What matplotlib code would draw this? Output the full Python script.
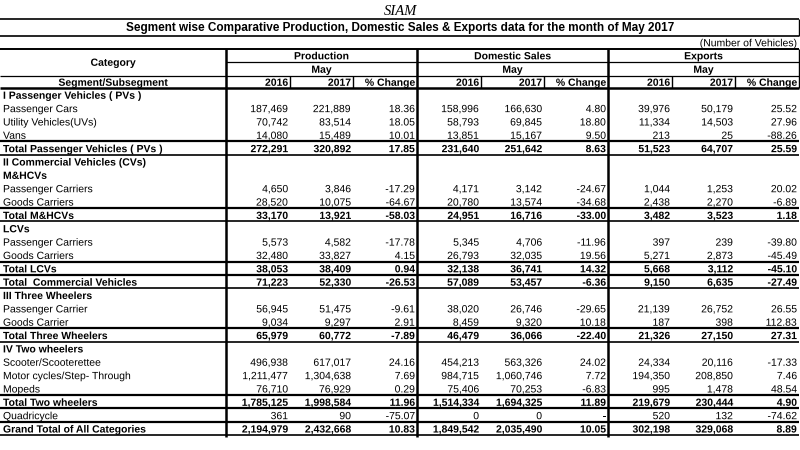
"""
SIAM segment-wise production / domestic sales / exports table, May 2017.
Drawn as a plain matplotlib table on a pixel-scaled axes.
"""
import math

import matplotlib
matplotlib.use("Agg")
import matplotlib.pyplot as plt
from matplotlib import patheffects

plt.rcParams["font.family"] = "Liberation Sans"

# --- data -----------------------------------------------------------------
labels = [
    "I Passenger Vehicles ( PVs )", "Passenger Cars", "Utility Vehicles(UVs)", "Vans",
    "Total Passenger Vehicles ( PVs )", "II Commercial Vehicles (CVs)", "M&HCVs",
    "Passenger Carriers", "Goods Carriers", "Total M&HCVs", "LCVs",
    "Passenger Carriers", "Goods Carriers", "Total LCVs", "Total  Commercial Vehicles",
    "III Three Wheelers", "Passenger Carrier", "Goods Carrier", "Total Three Wheelers",
    "IV Two wheelers", "Scooter/Scooterettee", "Motor cycles/Step- Through", "Mopeds",
    "Total Two wheelers", "Quadricycle", "Grand Total of All Categories",
]
# h = section heading, i = item, t = total (bold, ruled), p = plain ruled row
row_kind = [
    "h", "i", "i", "i", "t", "h", "h", "i", "i", "t", "h", "i", "i", "t", "t",
    "h", "i", "i", "t", "h", "i", "i", "i", "t", "p", "t",
]

N = None
prod_2016 = [N, 187469, 70742, 14080, 272291, N, N, 4650, 28520, 33170, N, 5573, 32480,
             38053, 71223, N, 56945, 9034, 65979, N, 496938, 1211477, 76710, 1785125,
             361, 2194979]
prod_2017 = [N, 221889, 83514, 15489, 320892, N, N, 3846, 10075, 13921, N, 4582, 33827,
             38409, 52330, N, 51475, 9297, 60772, N, 617017, 1304638, 76929, 1998584,
             90, 2432668]
prod_chg = [N, 18.36, 18.05, 10.01, 17.85, N, N, -17.29, -64.67, -58.03, N, -17.78, 4.15,
            0.94, -26.53, N, -9.61, 2.91, -7.89, N, 24.16, 7.69, 0.29, 11.96,
            -75.07, 10.83]
dom_2016 = [N, 158996, 58793, 13851, 231640, N, N, 4171, 20780, 24951, N, 5345, 26793,
            32138, 57089, N, 38020, 8459, 46479, N, 454213, 984715, 75406, 1514334,
            0, 1849542]
dom_2017 = [N, 166630, 69845, 15167, 251642, N, N, 3142, 13574, 16716, N, 4706, 32035,
            36741, 53457, N, 26746, 9320, 36066, N, 563326, 1060746, 70253, 1694325,
            0, 2035490]
dom_chg = [N, 4.80, 18.80, 9.50, 8.63, N, N, -24.67, -34.68, -33.00, N, -11.96, 19.56,
           14.32, -6.36, N, -29.65, 10.18, -22.40, N, 24.02, 7.72, -6.83, 11.89,
           math.nan, 10.05]
exp_2016 = [N, 39976, 11334, 213, 51523, N, N, 1044, 2438, 3482, N, 397, 5271,
            5668, 9150, N, 21139, 187, 21326, N, 24334, 194350, 995, 219679,
            520, 302198]
exp_2017 = [N, 50179, 14503, 25, 64707, N, N, 1253, 2270, 3523, N, 239, 2873,
            3112, 6635, N, 26752, 398, 27150, N, 20116, 208850, 1478, 230444,
            132, 329068]
exp_chg = [N, 25.52, 27.96, -88.26, 25.59, N, N, 20.02, -6.89, 1.18, N, -39.80, -45.49,
           -45.10, -27.49, N, 26.55, 112.83, 27.31, N, -17.33, 7.46, 48.54, 4.90,
           -74.62, 8.89]

groups = ["Production", "Domestic Sales", "Exports"]
sub_headers = ["2016", "2017", "% Change"]

# --- layout (pixels, 800x450 canvas) ---------------------------------------
col_edges = [0, 226, 290, 353, 417, 481, 544, 608, 672, 735, 799]
ROW_TOP, ROW_H = 88, 13.35
FS = 7.5
BASE = 3.8          # baseline offset below a row's centre line
# drawing text as paths keeps every string on the same baseline
# (Agg's bitmap text jumps a pixel depending on the glyph descent)
AS_PATH = [patheffects.Normal()]


def fmt(v, pct):
    if v is None:
        return ""
    if isinstance(v, float) and math.isnan(v):
        return "-"
    return f"{v:.2f}" if pct else f"{v:,}"


fig = plt.figure(figsize=(8, 4.5), dpi=100)
ax = fig.add_axes([0, 0, 1, 1])
ax.set_xlim(0, 800)
ax.set_ylim(450, 0)
ax.axis("off")


def hline(y, x0=0, x1=799, lw=1.0):
    ax.plot([x0, x1], [y, y], color="black", lw=lw, solid_capstyle="butt")


def vline(x, y0, y1, lw=1.0):
    ax.plot([x, x], [y0, y1], color="black", lw=lw, solid_capstyle="butt")


def txt(x, yc, s, ha="left", bold=False, fs=FS):
    ax.text(x, yc + BASE, s, ha=ha, va="baseline", fontsize=fs,
            weight="bold" if bold else "normal", path_effects=AS_PATH)


# title block
ax.text(400, 15, "SIAM", ha="center", va="baseline", fontsize=10.5, style="italic",
        family="Liberation Serif")
hline(19, lw=1.2)
ax.text(400, 31.5, "Segment wise Comparative Production, Domestic Sales & Exports data "
        "for the month of May 2017", ha="center", va="baseline", fontsize=8.5,
        weight="bold")
hline(35.5, lw=1.2)
vline(799, 19, 35.5, lw=1.0)
txt(797, 42.5, "(Number of Vehicles)", ha="right")

# header block
hline(49, lw=1.4)
hline(62, x0=226, lw=0.9)
hline(75.5, lw=0.9)
hline(88, lw=1.8)
txt(113, 62, "Category", ha="center", bold=True)
txt(113, 82, "Segment/Subsegment", ha="center", bold=True)
for g, name in enumerate(groups):
    x0, x1 = col_edges[1 + 3 * g], col_edges[4 + 3 * g]
    txt((x0 + x1) / 2, 55.5, name, ha="center", bold=True)
    txt((x0 + x1) / 2, 69, "May", ha="center", bold=True)
    for k, sh in enumerate(sub_headers):
        txt(col_edges[2 + 3 * g + k] - 2, 82, sh, ha="right", bold=True)
    vline(col_edges[2 + 3 * g], 75.5, 88, lw=1.0)
    vline(col_edges[3 + 3 * g], 75.5, 88, lw=1.0)
vline(799, 49, 88, lw=1.0)

# body
columns = [prod_2016, prod_2017, prod_chg, dom_2016, dom_2017, dom_chg,
           exp_2016, exp_2017, exp_chg]
for i, (lab, kind) in enumerate(zip(labels, row_kind)):
    top = ROW_TOP + i * ROW_H
    yc = top + ROW_H / 2 + 0.3
    bold = kind in ("h", "t")
    txt(3, yc, lab, bold=bold)
    for c, col in enumerate(columns):
        txt(col_edges[c + 2] - 2, yc, fmt(col[i], c % 3 == 2), ha="right", bold=bold)
    if kind in ("t", "p"):
        hline(top, lw=1.6)
        hline(top + ROW_H, lw=1.2)

bottom = ROW_TOP + len(labels) * ROW_H + 2
for x in (226, 417, 608):
    vline(x, 49, bottom, lw=1.8)

fig.savefig("out.png", dpi=100, facecolor="white")
